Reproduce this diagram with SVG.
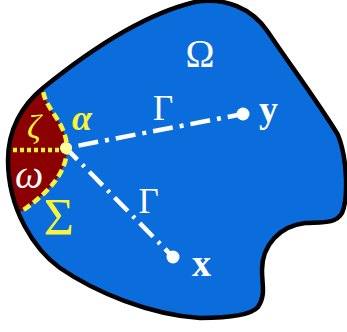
<svg xmlns="http://www.w3.org/2000/svg" width="347" height="332" viewBox="0 0 347 332">
<style>
.lbl{font-family:"Liberation Serif","DejaVu Serif",serif;fill:#fff}
.yl{fill:#f8f43c}
.it{font-style:italic}
.conn{fill:none;stroke:#fff;stroke-width:4.5}
</style>
<defs>
<path id="shape" d="M8 160 C8 130,22 105,43 88 C80 58,140 15,195 2 C225 -3,252 8,268 32 C288 62,320 105,338 135 C348 160,348 200,342 213 C336 224,322 222,305 223 C280 226,262 245,262 270 C262 285,266 295,258 307 C250 316,225 318,200 318 C150 315,95 292,60 268 C35 250,8 210,8 160 Z"/>
<clipPath id="dom"><use href="#shape"/></clipPath>
</defs>
<g id="domain">
<use href="#shape" fill="#0a6ddb"/>
<path clip-path="url(#dom)" d="M43 80 L43 88 C43 108,66 120,67 148 C67 175,45 195,22 211 L0 215 L0 80 Z" fill="#8b0000"/>
<path clip-path="url(#dom)" d="M43 80 L43 88 C43 108,66 120,67 148 C67 175,45 195,22 211 L16 215" fill="none" stroke="#f8f43c" stroke-width="4.5" stroke-dasharray="8 4"/>
<path clip-path="url(#dom)" d="M6 150 L66 150" fill="none" stroke="#f8f43c" stroke-width="4.5" stroke-dasharray="4 3"/>
</g>
<g id="connectors">
<path class="conn" d="M66 148 L243 114" stroke-dasharray="20 7 4 7" stroke-dashoffset="-12.7"/>
<path class="conn" d="M66 148 L173 257" stroke-dasharray="19 7 3 7" stroke-dashoffset="2.7"/>
</g>
<g id="outline">
<use href="#shape" fill="none" stroke="#000" stroke-width="4.5"/>
</g>
<g id="alpha"><circle cx="66" cy="148" r="6" fill="#ffff99"/><text class="lbl yl it" x="72" y="130" font-weight="bold" font-size="36">α</text></g>
<g id="y"><circle cx="243" cy="114" r="6.5" fill="#fff"/><text class="lbl" x="259" y="122" font-weight="bold" font-size="38">y</text></g>
<g id="x"><circle cx="173" cy="257" r="6.5" fill="#fff"/><text class="lbl" x="192" y="276" font-weight="bold" font-size="38">x</text></g>
<g id="labels">
<text class="lbl" x="200" y="67" text-anchor="middle" font-size="39">Ω</text>
<text class="lbl" x="163" y="120" text-anchor="middle" font-size="35">Γ</text>
<text class="lbl" x="148.5" y="213" text-anchor="middle" font-size="35">Γ</text>
<text class="lbl yl" x="59" y="235" text-anchor="middle" font-size="52">Σ</text>
<text class="lbl yl it" x="34" y="138" text-anchor="middle" font-size="34">ζ</text>
<text class="lbl it" x="29" y="188" text-anchor="middle" font-size="40">ω</text>
</g>
</svg>
